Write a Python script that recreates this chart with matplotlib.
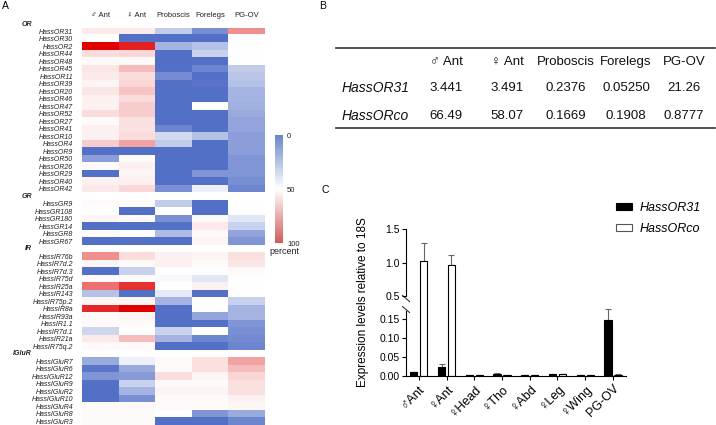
import numpy as np
import matplotlib
matplotlib.use('Agg')
import matplotlib.pyplot as plt
from matplotlib.colors import LinearSegmentedColormap, Normalize
from matplotlib.cm import ScalarMappable
from matplotlib.patches import Patch
from matplotlib.transforms import blended_transform_factory

plt.rcParams['font.family'] = ['Liberation Sans', 'DejaVu Sans']

# ---------------- Panel A data ----------------
tissues = ['♂ Ant', '♀ Ant', 'Proboscis', 'Forelegs', 'PG-OV']

or_genes = ['HassOR31', 'HassOR30', 'HassOR2', 'HassOR44', 'HassOR48', 'HassOR45',
            'HassOR11', 'HassOR39', 'HassOR20', 'HassOR46', 'HassOR47', 'HassOR52',
            'HassOR27', 'HassOR41', 'HassOR10', 'HassOR4', 'HassOR9', 'HassOR50',
            'HassOR26', 'HassOR29', 'HassOR40', 'HassOR42']
or_vals = [[54, 54, 33, 13, 72],
           [50, 3, 3, 3, 50],
           [100, 93, 25, 30, 50],
           [57, 58, 3, 35, 50],
           [51, 51, 2, 3, 50],
           [55, 63, 3, 10, 33],
           [54, 57, 12, 3, 31],
           [52, 58, 3, 4, 30],
           [55, 62, 3, 3, 25],
           [53, 57, 3, 3, 25],
           [53, 60, 3, 50, 24],
           [57, 60, 3, 3, 22],
           [51, 56, 3, 3, 20],
           [53, 56, 10, 3, 20],
           [53, 57, 38, 30, 18],
           [60, 68, 33, 3, 18],
           [3, 3, 3, 3, 18],
           [18, 51, 3, 3, 15],
           [51, 53, 3, 3, 15],
           [3, 52, 3, 15, 15],
           [53, 53, 3, 3, 13],
           [54, 58, 13, 45, 10]]

gr_genes = ['HassGR9', 'HassGR108', 'HassGR180', 'HassGR14', 'HassGR8', 'HassGR67']
gr_vals = [[51, 51, 33, 3, 50],
           [50, 3, 50, 3, 50],
           [52, 51, 13, 51, 42],
           [3, 3, 3, 54, 35],
           [51, 50, 28, 51, 20],
           [3, 3, 3, 52, 15]]

ir_genes = ['HassIR76b', 'HassIR7d.2', 'HassIR7d.3', 'HassIR75d', 'HassIR25a', 'HassIR143',
            'HassIR75p.2', 'HassIR8a', 'HassIR93a', 'HassIR1.1', 'HassIR7d.1', 'HassIR21a',
            'HassIR75q.2']
ir_vals = [[72, 57, 53, 52, 56],
           [52, 51, 53, 51, 55],
           [3, 35, 50, 50, 51],
           [51, 51, 48, 42, 50],
           [78, 90, 50, 53, 50],
           [30, 3, 43, 3, 50],
           [52, 52, 25, 50, 35],
           [92, 100, 3, 50, 25],
           [51, 52, 3, 20, 25],
           [51, 51, 3, 3, 15],
           [37, 50, 35, 50, 13],
           [54, 63, 25, 10, 12],
           [51, 51, 3, 3, 10]]

iglur_genes = ['HassIGluR7', 'HassIGluR6', 'HassIGluR12', 'HassIGluR9', 'HassIGluR2',
               'HassIGluR10', 'HassIGluR4', 'HassIGluR8', 'HassIGluR3']
iglur_vals = [[22, 45, 51, 56, 68],
              [5, 22, 51, 56, 63],
              [15, 17, 57, 52, 58],
              [3, 35, 51, 51, 56],
              [3, 25, 52, 52, 56],
              [3, 13, 51, 51, 53],
              [51, 51, 51, 51, 52],
              [51, 51, 50, 15, 22],
              [51, 51, 3, 3, 10]]

section_names = ['OR', 'GR', 'IR', 'IGluR']

# ---------------- Panel B data ----------------
table_cols = ['♂ Ant', '♀ Ant', 'Proboscis', 'Forelegs', 'PG-OV']
table_rows = ['HassOR31', 'HassORco']
or31_table = ['3.441', '3.491', '0.2376', '0.05250', '21.26']
orco_table = ['66.49', '58.07', '0.1669', '0.1908', '0.8777']

# ---------------- Panel C data ----------------
c_groups = ['♂Ant', '♀Ant', '♀Head', '♀Tho', '♀Abd', '♀Leg', '♀Wing', 'PG-OV']
or31_expr = [0.010, 0.024, 0.001, 0.005, 0.001, 0.004, 0.001, 0.148]
or31_err = [0.001, 0.006, 0.0003, 0.001, 0.0003, 0.001, 0.0003, 0.029]
orco_expr = [1.02, 0.965, 0.002, 0.002, 0.001, 0.004, 0.001, 0.003]
orco_err = [0.27, 0.15, 0.0005, 0.0005, 0.0003, 0.0008, 0.0003, 0.0008]

# ---------------- layout helpers ----------------
W, H = 716, 425
fig = plt.figure(figsize=(W / 100, H / 100), dpi=100)


def rect(x0, y0, x1, y1):
    return [x0 / W, 1 - y1 / H, (x1 - x0) / W, (y1 - y0) / H]


# overlay axes in pixel coordinates for labels / table
ov = fig.add_axes([0, 0, 1, 1])
ov.set_xlim(0, W)
ov.set_ylim(H, 0)
ov.axis('off')
ov.patch.set_visible(False)

# ---------------- Panel A ----------------
cmap = LinearSegmentedColormap.from_list('bwr_custom', ['#4a68c4', '#ffffff', '#e00000'])
cmap.set_bad('white')
cmap_cb = LinearSegmentedColormap.from_list('bwr_cb', ['#6a86c9', '#ffffff', '#d25a5a'])

sections = [(or_genes, or_vals), (gr_genes, gr_vals), (ir_genes, ir_vals), (iglur_genes, iglur_vals)]
rows, labels, sec_pos = [], [], []
for i, (genes, vals) in enumerate(sections):
    if i > 0:
        sec_pos.append(len(rows) + 0.5)
        rows.append([np.nan] * len(tissues))
        labels.append('')
    else:
        sec_pos.append(-0.45)
    rows.extend(vals)
    labels.extend(genes)
M = np.array(rows, dtype=float)
nrows = M.shape[0]

axA = fig.add_axes(rect(82, 425 - nrows * 7.5, 265, 425))
axA.imshow(np.ma.masked_invalid(M), cmap=cmap, vmin=0, vmax=100, aspect='auto',
           interpolation='nearest', extent=(0, len(tissues), nrows, 0))
axA.set_xlim(0, len(tissues))
axA.set_ylim(nrows, 0)
for s in axA.spines.values():
    s.set_visible(False)
axA.set_xticks([])
ticks = [i + 0.5 for i, l in enumerate(labels) if l]
axA.set_yticks(ticks)
axA.set_yticklabels([l for l in labels if l], fontsize=5, style='italic', color='#222222')
axA.tick_params(axis='y', length=0, pad=6.5)
for j, t in enumerate(tissues):
    axA.text(j + 0.5, -1.65, t, ha='center', va='center', fontsize=5.5, color='#222222')
trA = blended_transform_factory(axA.transAxes, axA.transData)
for name, yp in zip(section_names, sec_pos):
    axA.text(-0.273, yp, name, transform=trA, ha='right', va='center', fontsize=5,
             fontweight='bold', style='italic', color='#222222')

cax = fig.add_axes(rect(275, 135, 283, 243))
cb = fig.colorbar(ScalarMappable(norm=Normalize(0, 100), cmap=cmap_cb), cax=cax)
cb.outline.set_visible(False)
cax.invert_yaxis()
cb.set_ticks([0, 50, 100])
cax.tick_params(length=0, labelsize=5.5, pad=3, colors='#222222')
ov.text(284, 251, 'percent', ha='center', va='center', fontsize=6.5, color='#222222')

# panel letters
ov.text(2, 6, 'A', fontsize=7.5, ha='left', va='center')
ov.text(323, 6, 'B', fontsize=7.5, ha='center', va='center')
ov.text(325, 190, 'C', fontsize=7.5, ha='center', va='center')

# ---------------- Panel B (table) ----------------
col_x = [446, 507, 566, 626, 684]
row_y = [88, 116]
ov.plot([336, 715], [47.5, 47.5], color='#333333', lw=1.2)
ov.plot([336, 715], [128.3, 128.3], color='#333333', lw=1.2)
for cx, c in zip(col_x, table_cols):
    ov.text(cx, 62, c, ha='center', va='center', fontsize=9.5, color='#111111')
for ry, rl, vals in zip(row_y, table_rows, [or31_table, orco_table]):
    ov.text(342, ry, rl, ha='left', va='center', fontsize=10, style='italic', color='#111111')
    for cx, v in zip(col_x, vals):
        ov.text(cx, ry, v, ha='center', va='center', fontsize=9.5, color='#111111')

# ---------------- Panel C ----------------
x = np.arange(len(c_groups))
off, bw = 0.18, 0.26
ybase = 375.7
ppu = 376.0  # pixels per unit lower axis
lower_top = 296
axU = fig.add_axes(rect(406, 229.3, 626, lower_top))
axL = fig.add_axes(rect(406, lower_top, 626, ybase))
for ax in (axU, axL):
    ax.bar(x - off, or31_expr, bw, color='black', edgecolor='black', lw=0.8, zorder=2)
    ax.bar(x + off, orco_expr, bw, color='white', edgecolor='black', lw=0.8, zorder=2)
    ax.errorbar(x - off, or31_expr, yerr=[np.zeros(len(x)), or31_err], fmt='none',
                ecolor='#666666', elinewidth=0.8, capsize=2, capthick=0.8, zorder=1)
    ax.errorbar(x + off, orco_expr, yerr=[np.zeros(len(x)), orco_err], fmt='none',
                ecolor='#666666', elinewidth=0.8, capsize=2, capthick=0.8, zorder=1)
    ax.set_xlim(-0.46, len(x) - 0.53)
    ax.spines['top'].set_visible(False)
    ax.spines['right'].set_visible(False)
    ax.patch.set_visible(False)
    ax.tick_params(axis='y', length=3, width=0.8, labelsize=7.5, pad=1.5)
    for s in ('left', 'bottom'):
        ax.spines[s].set_linewidth(0.8)

axU.set_ylim(0.5, 1.5)
axU.set_yticks([0.5, 1.0, 1.5])
axU.set_yticklabels(['0.5', '1.0', '1.5'])
axU.spines['bottom'].set_visible(False)
axU.set_xticks([])

lower_lim = (ybase - lower_top) / ppu
axL.set_ylim(0, lower_lim)
axL.spines['left'].set_bounds(0, 0.173)
axL.set_yticks([0, 0.05, 0.10, 0.15])
axL.set_yticklabels(['0.00', '0.05', '0.10', '0.15'])
axL.set_xticks(x)
axL.set_xticklabels(c_groups, rotation=45, ha='right', rotation_mode='anchor', fontsize=9)
axL.tick_params(axis='x', length=3, width=0.8, pad=2)

# break marks
for yb in (295.5, 306.5):
    ov.plot([402.5, 409.5], [yb, yb + 6], color='#333333', lw=0.8)

fig.text(363 / W, 1 - 302 / H, 'Expression levels relative to 18S', rotation=90,
         ha='center', va='center', fontsize=8.5)

handles = [Patch(facecolor='black', edgecolor='black', lw=0.8),
           Patch(facecolor='white', edgecolor='#555555', lw=0.8)]
fig.legend(handles, ['HassOR31', 'HassORco'], loc='upper left',
           bbox_to_anchor=(616 / W, 1 - 202 / H), frameon=False, borderpad=0,
           borderaxespad=0, handlelength=1.3, handleheight=0.55, handletextpad=0.6,
           labelspacing=0.7, prop={'style': 'italic', 'size': 9})

fig.savefig('out.png', dpi=100)
